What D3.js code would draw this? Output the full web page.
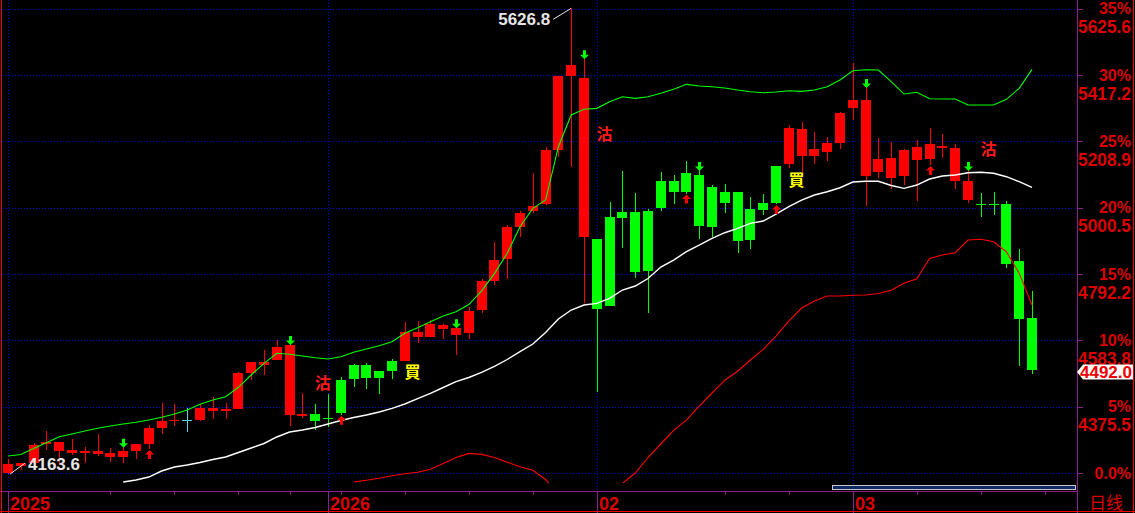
<!DOCTYPE html>
<html><head><meta charset="utf-8">
<script src="https://cdn.jsdelivr.net/npm/d3@7"></script>
<style>html,body{margin:0;padding:0;background:#000;overflow:hidden}</style>
</head><body><svg id="c" width="1135" height="513"></svg>
<script>
// ---------------- data ----------------
const base = 4167.1;
const pctTicks = [0, 5, 10, 15, 20, 25, 30, 35];
const pctLabels = ["0.0%", "5%", "10%", "15%", "20%", "25%", "30%", "35%"];
const priceLabels = ["", "4375.5", "4583.8", "4792.2", "5000.5", "5208.9", "5417.2", "5625.6"];

const opens = [4167.1,4189.1,4198.5,4258.2,4237.1,4230.9,4230.9,4226.8,4218.3,4217.4,
  4237.1,4258.2,4309.4,4329.5,4333.6,4333.6,4362.8,4362.8,4368.1,4481.2,
  4506.3,4522.0,4349.3,4347.1,4352.4,4339.9,4459.2,4506.3,4506.3,4487.5,
  4518.9,4519.8,4595.2,4595.2,4620.3,4600.6,4607.8,4679.1,4770.2,4838.3,
  4940.7,4990.1,5012.0,5181.6,5414.1,4909.3,4902.1,4971.2,4986.9,4986.9,
  4991.0,5084.3,5084.3,5109.4,5103.1,5066.4,5049.7,5049.7,4996.3,5014.2,
  5131.4,5138.6,5162.8,5163.7,5175.4,5204.6,5314.5,5100.9,5113.5,5094.6,
  5100.9,5151.2,5153.4,5187.0,5085.2,5025.5,5013.0,5013.0,5012.0,4833.0,
  4654.9];
const closes = [4195.4,4198.5,4255.0,4265.4,4265.4,4239.3,4235.3,4237.1,4229.0,4236.2,
  4258.2,4309.4,4330.4,4334.5,4333.6,4371.3,4372.2,4369.1,4482.1,4516.7,
  4516.7,4562.9,4569.1,4352.4,4331.4,4336.7,4356.5,4461.4,4466.4,4466.4,
  4488.4,4610.9,4610.0,4635.1,4631.0,4621.6,4675.9,4770.2,4836.1,4938.8,
  4982.8,5005.7,5181.6,5414.1,5448.6,5407.8,4682.2,4692.6,4968.1,4799.4,
  4801.6,5000.4,5049.7,5049.7,4943.9,4940.7,5016.1,4895.8,4899.0,4993.2,
  5016.1,5250.7,5247.6,5184.8,5203.6,5297.9,5338.7,5338.7,5153.4,5156.5,
  5181.6,5191.1,5200.5,5194.2,5187.9,5084.3,5011.1,5011.1,4824.5,4651.8,
  4492.0];
const highs = [4211.1,4198.5,4261.3,4299.0,4265.4,4273.9,4249.7,4289.6,4245.6,4249.7,
  4258.2,4317.9,4387.0,4383.8,4371.3,4383.8,4404.9,4387.0,4484.3,4516.7,
  4553.4,4584.9,4572.0,4417.4,4383.8,4415.2,4469.6,4509.5,4511.7,4487.5,
  4524.2,4642.3,4645.5,4647.7,4635.1,4625.0,4688.5,4776.5,4893.6,4946.1,
  4991.0,5110.3,5192.0,5414.1,5626.8,5469.7,4902.1,5019.3,5115.7,5047.5,
  4995.4,5112.5,5103.1,5147.1,5118.8,5071.7,5073.9,5049.7,5035.0,5042.5,
  5131.4,5259.2,5269.6,5238.2,5222.5,5301.0,5454.9,5380.0,5219.3,5207.7,
  5184.8,5214.0,5250.7,5231.9,5200.5,5118.8,5045.6,5049.7,5020.5,4870.7,
  4739.7];
const lows = [4163.6,4176.5,4198.5,4239.3,4192.2,4223.6,4199.5,4220.5,4202.6,4197.6,
  4211.1,4242.5,4289.6,4314.7,4296.8,4330.4,4337.7,4337.7,4368.1,4459.2,
  4475.9,4522.0,4315.7,4338.9,4302.2,4312.5,4350.0,4438.2,4431.9,4415.2,
  4462.4,4519.8,4576.4,4595.2,4587.1,4537.7,4588.9,4668.7,4757.6,4775.5,
  4909.3,4984.7,5008.9,5160.6,5129.2,4702.0,4422.5,4692.6,4874.8,4780.5,
  4670.6,4991.0,5012.0,5045.0,4902.1,4909.3,4984.7,4859.1,4869.7,4977.5,
  5012.0,5124.2,5111.6,5138.6,5148.0,5184.8,5275.9,5006.7,5094.6,5060.1,
  5072.7,5022.4,5134.5,5157.5,5060.1,5016.1,4972.1,4978.4,4811.9,4504.1,
  4479.0];

const upperBand = [4220.5,4225.2,4244.1,4262.3,4281.1,4289.6,4299.0,4307.5,4314.7,4321.0,
  4326.3,4333.6,4342.1,4352.4,4365.0,4382.9,4396.4,4406.8,4436.3,4474.9,
  4511.7,4543.1,4540.3,4534.6,4529.3,4525.2,4532.4,4546.2,4556.6,4567.0,
  4579.5,4605.9,4623.5,4642.3,4660.2,4673.7,4696.4,4739.4,4793.4,4857.2,
  4940.7,4998.5,5024.6,5192.0,5291.6,5309.5,5312.6,5333.3,5349.1,5344.0,
  5349.1,5359.7,5372.3,5388.0,5382.7,5380.5,5376.4,5370.1,5364.8,5361.6,
  5363.8,5367.9,5366.0,5370.1,5380.5,5401.5,5430.7,5433.9,5432.9,5396.8,
  5357.5,5362.9,5342.8,5341.8,5341.8,5323.0,5323.0,5323.0,5340.9,5375.4,
  5435.1];
const midBand = [null,null,null,null,null,null,null,null,null,
  4138.8,4145.1,4154.5,4173.4,4185.9,4192.2,4200.1,4209.5,4217.4,4231.5,
  4245.6,4259.8,4280.2,4295.9,4302.2,4310.0,4321.0,4332.0,4341.4,4349.3,
  4358.7,4370.3,4383.8,4400.5,4417.4,4435.7,4453.9,4467.1,4483.4,4502.2,
  4523.6,4548.1,4572.3,4608.4,4650.8,4679.1,4694.8,4700.1,4715.8,4741.9,
  4754.5,4778.0,4814.1,4836.1,4862.2,4883.2,4904.3,4921.9,4935.7,4951.4,
  4958.6,4980.6,5003.6,5024.6,5040.3,5050.7,5063.2,5081.1,5083.6,5083.6,
  5070.1,5061.3,5071.7,5090.6,5100.0,5103.1,5110.3,5111.6,5108.5,5097.8,
  5082.1,5064.5];
const lowerBand = [null,null,null,null,null,null,null,null,null,null,
  null,null,null,null,null,null,null,null,null,null,
  null,null,null,null,null,null,null,
  4138.8,4144.2,4150.8,4158.3,4164.6,4169.6,4179.0,4196.9,4215.8,4228.7,
  4225.5,4215.8,4201.0,4186.9,4175.6,4146.7,4100.0,
  null,null,null,
  4110.0,4134.1,4167.1,4215.8,4258.2,4300.9,4332.9,4377.5,4418.4,4458.6,
  4486.9,4522.0,4555.3,4597.4,4644.5,4685.4,4707.4,4723.1,4723.1,4725.3,
  4726.2,4730.9,4741.3,4763.0,4777.4,4840.8,4851.8,4859.1,4899.0,4901.2,
  4893.6,4862.2,4794.4,4694.8];

const sellSignals = [9, 22, 35, 45, 54, 67, 75];
const buySignals = [11, 26, 53, 60, 72];
const noteIdx = [24.6, 46.6, 76.6, 31.6, 61.6];
const notePrice = [4449.8, 5231.9, 5184.8, 4484.3, 5087.4];
const noteText = ["沽", "沽", "沽", "買", "買"];

const monthTicks = [0, 25, 46, 66];
const monthLabels = ["2025", "2026", "02", "03"];
const weekTicks = [8, 13, 18, 22, 26, 31, 36, 41, 56, 61, 71, 76, 81];

const highIdx = 44, highVal = 5626.8;
const lowIdx = 0, lowVal = 4163.6;
const lastClose = 4492.0;
const periodLabel = "日线";

// ---------------- drawing ----------------
const W = 1135, H = 513;
const svg = d3.select('#c');
const x = d3.scaleLinear().domain([0, 80]).range([8, 1032]);
const y = d3.scaleLinear().domain([base, base * 1.35]).range([473, 8.7]);
const gridColor = '#0000d8', axisColor = '#8e1e8e', labelRed = '#dd0000';
const numFont = '"Liberation Sans", Arial, sans-serif';

svg.append('rect').attr('width', W).attr('height', H).attr('fill', '#000');
svg.append('defs').append('clipPath').attr('id', 'plot')
  .append('rect').attr('x', 3).attr('y', 0).attr('width', 1073).attr('height', 483);

// horizontal grid
const tickY = p => y(base * (1 + p / 100));
svg.append('g').selectAll('line').data(pctTicks).join('line')
  .attr('x1', 3).attr('x2', 1076)
  .attr('y1', d => Math.round(tickY(d)) + 0.5).attr('y2', d => Math.round(tickY(d)) + 0.5)
  .attr('stroke', gridColor).attr('stroke-dasharray', '1,2').attr('shape-rendering', 'crispEdges');
// vertical month grid
svg.append('g').selectAll('line').data(monthTicks).join('line')
  .attr('x1', d => Math.round(x(d)) + 0.5).attr('x2', d => Math.round(x(d)) + 0.5)
  .attr('y1', 0).attr('y2', 491)
  .attr('stroke', gridColor).attr('stroke-dasharray', '1,2').attr('shape-rendering', 'crispEdges');

// candles
const idx = d3.range(opens.length);
const colorOf = i => closes[i] > opens[i] ? '#ff0000' : (closes[i] < opens[i] ? '#00ff00' : '#54d8e8');
const cg = svg.append('g').attr('clip-path', 'url(#plot)').attr('shape-rendering', 'crispEdges');
cg.selectAll('line.w').data(idx).join('line').attr('class', 'w')
  .attr('x1', i => Math.round(x(i)) + 0.5).attr('x2', i => Math.round(x(i)) + 0.5)
  .attr('y1', i => y(highs[i])).attr('y2', i => y(lows[i]))
  .attr('stroke', colorOf).attr('stroke-width', 1);
cg.selectAll('rect.b').data(idx).join('rect').attr('class', 'b')
  .attr('x', i => Math.round(x(i)) - 5).attr('width', 10)
  .attr('y', i => Math.min(y(opens[i]), y(closes[i])))
  .attr('height', i => Math.max(1.5, Math.abs(y(opens[i]) - y(closes[i]))))
  .attr('fill', colorOf);

// band lines
const lineGen = d3.line().defined(d => d != null).x((d, i) => x(i)).y(d => y(d));
const lg = svg.append('g').attr('clip-path', 'url(#plot)').attr('fill', 'none');
lg.append('path').attr('d', lineGen(midBand)).attr('stroke', '#ffffff').attr('stroke-width', 1.4);
lg.append('path').attr('d', lineGen(upperBand)).attr('stroke', '#00ff00').attr('stroke-width', 1.1);
lg.append('path').attr('d', lineGen(lowerBand)).attr('stroke', '#ff0000').attr('stroke-width', 1.1);

// signal arrows
const downArrow = 'M-1.5,-9 L1.5,-9 L1.5,-4.5 L4.5,-4.5 L0,0 L-4.5,-4.5 L-1.5,-4.5 Z';
const upArrow = 'M-1.5,9 L1.5,9 L1.5,4.5 L4.5,4.5 L0,0 L-4.5,4.5 L-1.5,4.5 Z';
svg.append('g').selectAll('path').data(sellSignals).join('path')
  .attr('d', downArrow).attr('fill', '#00ff00')
  .attr('transform', i => `translate(${Math.round(x(i)) + 0.5},${y(highs[i]) + 1})`);
svg.append('g').selectAll('path').data(buySignals).join('path')
  .attr('d', upArrow).attr('fill', '#ff0000')
  .attr('transform', i => `translate(${Math.round(x(i)) + 0.5},${y(lows[i]) + 1})`);

// notes
svg.append('g').selectAll('text').data(d3.range(noteText.length)).join('text')
  .attr('x', k => x(noteIdx[k])).attr('y', k => y(notePrice[k]) + 6)
  .attr('text-anchor', 'middle')
  .attr('font-family', '"Noto Sans CJK TC", "Noto Sans CJK SC", sans-serif')
  .attr('font-size', 16).attr('font-weight', 'bold')
  .attr('fill', k => noteText[k] === '買' ? '#ffff00' : '#ff1a1a')
  .text(k => noteText[k]);

// high / low marks
{
  const hx = x(highIdx), hy = y(highVal);
  svg.append('line').attr('x1', hx - 18).attr('y1', hy + 11).attr('x2', hx).attr('y2', hy)
    .attr('stroke', '#e8e8e8').attr('stroke-width', 1);
  svg.append('text').attr('x', hx - 21).attr('y', hy + 17).attr('text-anchor', 'end')
    .attr('font-family', numFont).attr('font-weight', 'bold').attr('font-size', 17)
    .attr('fill', '#e6e6e6').text(highVal.toFixed(1));
  const lx = x(lowIdx), ly = y(lowVal);
  svg.append('line').attr('x1', lx + 2).attr('y1', ly).attr('x2', lx + 17).attr('y2', ly - 11)
    .attr('stroke', '#e8e8e8').attr('stroke-width', 1);
  svg.append('text').attr('x', lx + 20).attr('y', ly - 4)
    .attr('font-family', numFont).attr('font-weight', 'bold').attr('font-size', 17)
    .attr('fill', '#e6e6e6').text(lowVal.toFixed(1));
}

// right axis
const ax = svg.append('g').attr('shape-rendering', 'crispEdges');
ax.append('line').attr('x1', 1077.5).attr('x2', 1077.5).attr('y1', 0).attr('y2', 513).attr('stroke', axisColor);
ax.selectAll('line.rt').data(pctTicks).join('line').attr('class', 'rt')
  .attr('x1', 1077).attr('x2', 1083)
  .attr('y1', d => Math.round(tickY(d)) + 0.5).attr('y2', d => Math.round(tickY(d)) + 0.5)
  .attr('stroke', axisColor);
svg.append('g').selectAll('text').data(pctTicks).join('text')
  .attr('x', 1131).attr('y', d => tickY(d) + 5.5).attr('text-anchor', 'end')
  .attr('font-family', numFont).attr('font-weight', 'bold').attr('font-size', 16)
  .attr('fill', labelRed).text((d, k) => pctLabels[k]);
svg.append('g').selectAll('text').data(pctTicks.filter((d, k) => priceLabels[k] !== '')).join('text')
  .attr('x', 1131).attr('y', d => tickY(d) + 24.5).attr('text-anchor', 'end')
  .attr('font-family', numFont).attr('font-weight', 'bold').attr('font-size', 19)
  .attr('textLength', 53).attr('lengthAdjust', 'spacingAndGlyphs')
  .attr('fill', labelRed).text(d => priceLabels[pctTicks.indexOf(d)]);

// last price box
{
  const cy = y(lastClose) + 2.5;
  svg.append('path')
    .attr('d', `M1077,${cy} L1083,${cy - 7.5} L1133,${cy - 7.5} L1133,${cy + 7.5} L1083,${cy + 7.5} Z`)
    .attr('fill', '#ffffff');
  svg.append('text').attr('x', 1132).attr('y', cy + 6).attr('text-anchor', 'end')
    .attr('font-family', numFont).attr('font-weight', 'bold').attr('font-size', 16.5)
    .attr('textLength', 52).attr('lengthAdjust', 'spacingAndGlyphs')
    .attr('fill', '#ee0000').text(lastClose.toFixed(1));
}

// bottom axis
ax.append('line').attr('x1', 0).attr('x2', 1077).attr('y1', 491.5).attr('y2', 491.5).attr('stroke', axisColor);
ax.selectAll('line.mt').data(monthTicks).join('line').attr('class', 'mt')
  .attr('x1', d => Math.round(x(d)) + 0.5).attr('x2', d => Math.round(x(d)) + 0.5)
  .attr('y1', 491).attr('y2', 513).attr('stroke', axisColor);
ax.selectAll('line.wt').data(weekTicks).join('line').attr('class', 'wt')
  .attr('x1', d => Math.round(x(d)) + 0.5).attr('x2', d => Math.round(x(d)) + 0.5)
  .attr('y1', 491).attr('y2', 495).attr('stroke', axisColor);
svg.append('g').selectAll('text').data(monthTicks).join('text')
  .attr('x', d => Math.round(x(d)) + 2).attr('y', 510)
  .attr('font-family', numFont).attr('font-weight', 'bold').attr('font-size', 18)
  .attr('fill', labelRed).text((d, k) => monthLabels[k]);
svg.append('text').attr('x', 1089).attr('y', 509)
  .attr('font-family', '"Noto Sans CJK SC", sans-serif').attr('font-size', 17)
  .attr('fill', labelRed).text(periodLabel);

// scrollbar
svg.append('rect').attr('x', 832.5).attr('y', 485.5).attr('width', 243).attr('height', 4)
  .attr('fill', '#0e2a66').attr('stroke', '#c8c8c8').attr('stroke-width', 1);

// outer borders
const bg = svg.append('g').attr('shape-rendering', 'crispEdges');
bg.append('line').attr('x1', 1.5).attr('x2', 1.5).attr('y1', 0).attr('y2', 513).attr('stroke', '#ff0000');
bg.append('line').attr('x1', 0).attr('x2', 1135).attr('y1', 511.5).attr('y2', 511.5).attr('stroke', '#ff0000');
bg.append('line').attr('x1', 1133.5).attr('x2', 1133.5).attr('y1', 0).attr('y2', 513).attr('stroke', '#ff0000');
</script>
</body></html>
